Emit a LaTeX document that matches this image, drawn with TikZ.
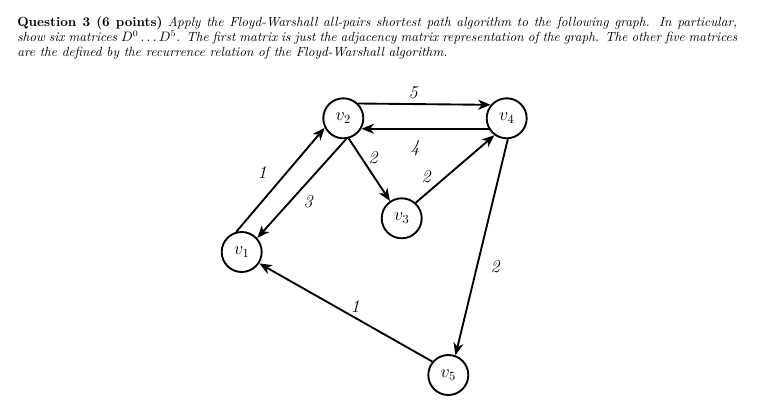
\documentclass[tikz,border=0pt]{standalone}
\usetikzlibrary{arrows.meta}
\begin{document}
\begin{tikzpicture}[x=0.8pt,y=-0.8pt,
  vert/.style={circle,draw,line width=1.5pt,minimum size=32pt,inner sep=0pt,font=\Large},
  edge/.style={line width=1.5pt,-{Stealth[length=10pt,width=8pt,inset=3pt]}},
  wlab/.style={font=\Large\itshape,inner sep=0pt}]
\useasboundingbox (0,0) rectangle (757,413);
\node[anchor=north west,text width=576pt,align=justify,inner sep=0pt,font=\fontsize{10.6}{12}\selectfont] (q) at (17,16)
  {\textbf{Question 3 (6 points)} \textit{Apply the Floyd-Warshall all-pairs shortest path algorithm to the following graph. In particular, show six matrices $D^0\ldots D^5$. The first matrix is just the adjacency matrix representation of the graph. The other five matrices are the defined by the recurrence relation of the Floyd-Warshall algorithm.}};
\node[vert] (v1) at (241.7,252) {$v_1$};
\node[vert] (v2) at (343.3,118.3) {$v_2$};
\node[vert] (v3) at (401.7,218.3) {$v_3$};
\node[vert] (v4) at (506.7,118.3) {$v_4$};
\node[vert] (v5) at (448.3,375) {$v_5$};
\draw[edge] (v1.105) -- (v2.207);
\draw[edge] (v2.278) -- (v1.42);
\draw[edge] (v2.45) -- (v4.140);
\draw[edge] (v4.210) -- (v2.330);
\draw[edge] (v2.285) -- (v3.124);
\draw[edge] (v3.48) -- (v4.234);
\draw[edge] (v4.273) -- (v5.70);
\draw[edge] (v5.140) -- (v1.327);
\node[wlab] (l5) at (413,93) {5};
\node[wlab] (l4) at (415,148) {4};
\node[wlab] (l1a) at (262,173) {1};
\node[wlab] (l3) at (308,202) {3};
\node[wlab] (l2a) at (373,158) {2};
\node[wlab] (l2b) at (426,177) {2};
\node[wlab] (l2c) at (495,267) {2};
\node[wlab] (l1b) at (355,307) {1};
\end{tikzpicture}
\end{document}
